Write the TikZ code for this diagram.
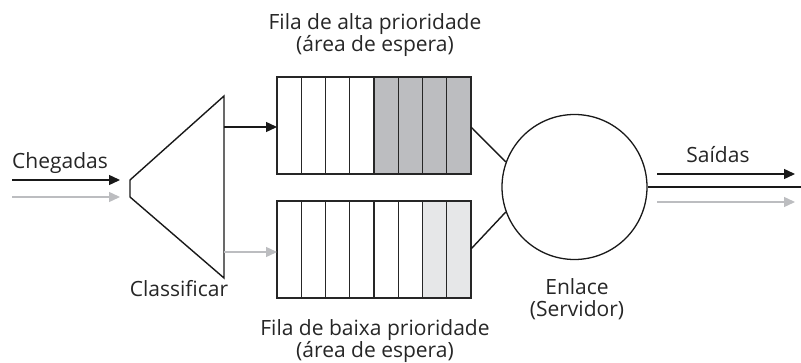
\documentclass[tikz,border=0pt]{standalone}
\usepackage{fontspec}
\setmainfont{Open Sans}
\usetikzlibrary{arrows.meta}
\definecolor{qgray}{HTML}{BCBDC0}
\definecolor{qlight}{HTML}{E6E7E8}
\tikzset{
  lbl/.style={font=\fontsize{21}{22}\selectfont, text=black!85, anchor=base, inner sep=0pt, align=center},
  ln/.style={line width=1.4pt, draw=black!90},
  blk/.style={ln, -{Triangle[length=11pt,width=10pt]}},
  gry/.style={line width=1.4pt, draw=qgray, -{Triangle[length=11pt,width=10pt]}, color=qgray},
  cell/.style={line width=1.3pt, draw=black!85}
}
\begin{document}
\begin{tikzpicture}[x=1pt,y=-1pt]
\useasboundingbox (0,0) rectangle (801,363);
% classifier
\coordinate (cl1) at (130,180);
\coordinate (cl2) at (224,96);
\coordinate (cl3) at (224,278);
\coordinate (cl4) at (130,197);
\draw[ln] (cl1) -- (cl2) -- (cl3) -- (cl4) -- cycle;
% input arrows
\coordinate (inB) at (12,180);
\coordinate (inBe) at (120,180);
\coordinate (inG) at (12,197);
\coordinate (inGe) at (120,197);
\draw[blk] (inB) -- (inBe);
\draw[gry] (inG) -- (inGe);
\node[lbl] (cheg) at (60,169) {Chegadas};
\node[lbl] (clas) at (179,297) {Classificar};
% queues
\foreach \i in {0,...,7}{
  \pgfmathsetmacro{\xa}{277+\i*24.25}
  \ifnum\i>3 \def\fc{qgray}\else\def\fc{white}\fi
  \filldraw[cell, fill=\fc] (\xa,77) rectangle ++(24.25,97);
  \ifnum\i>5 \def\fd{qlight}\else\def\fd{white}\fi
  \filldraw[cell, fill=\fd] (\xa,201) rectangle ++(24.25,97);
}
\coordinate (qh) at (471,127);
\coordinate (ql) at (471,249);
\coordinate (qhin) at (277,127);
\coordinate (qlin) at (277,252);
\coordinate (clh) at (224,127);
\coordinate (cll) at (224,252);
\draw[blk] (clh) -- (qhin);
\draw[gry] (cll) -- (qlin);
\node[lbl] (t1) at (375,52) {Fila de alta prioridade\\(área de espera)};
\node[lbl] (t2) at (375,358) {Fila de baixa prioridade\\(área de espera)};
% server
\node[circle, draw=black!90, line width=1.3pt, minimum size=145pt, inner sep=0pt] (srv) at (574.5,187) {};
\draw[ln] (qh) -- (srv.160);
\draw[ln] (ql) -- (srv.200);
\node[lbl] (enl) at (577,317) {Enlace\\(Servidor)};
% output
\coordinate (outE) at (801,187);
\draw[line width=2.6pt, draw=black!90] (srv.east) -- (outE);
\coordinate (oB) at (657,174);
\coordinate (oBe) at (795,174);
\coordinate (oG) at (657,202);
\coordinate (oGe) at (795,202);
\draw[blk] (oB) -- (oBe);
\draw[gry] (oG) -- (oGe);
\node[lbl] (sai) at (718,163) {Saídas};
\end{tikzpicture}
\end{document}
